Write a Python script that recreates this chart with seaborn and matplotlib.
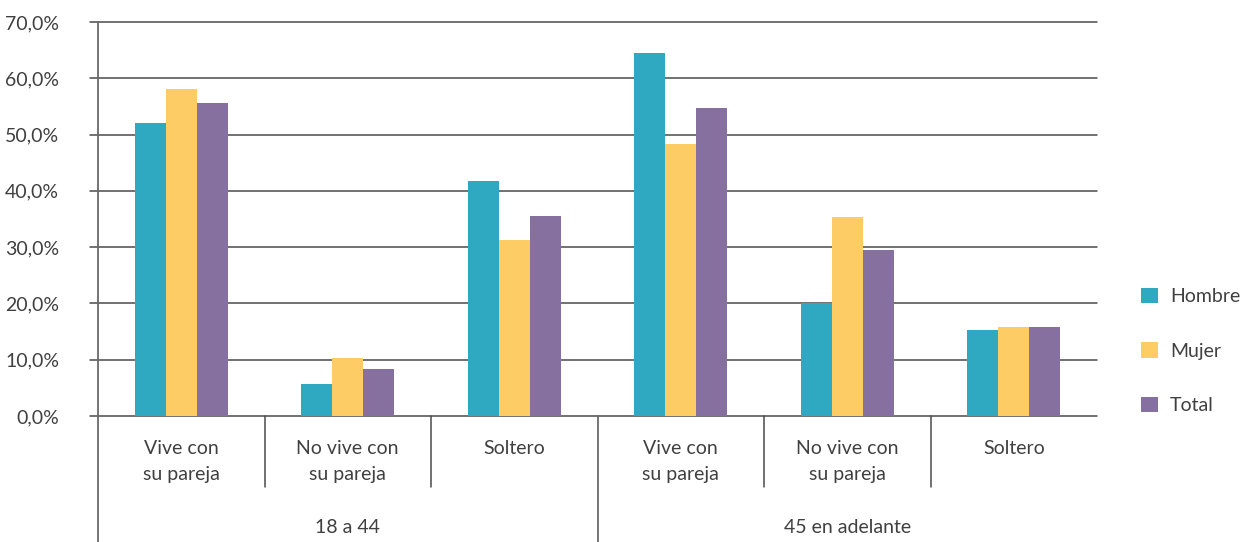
import pandas as pd
import numpy as np
import matplotlib.pyplot as plt
import seaborn as sns
from matplotlib.ticker import FuncFormatter

# data
grupos = ["18 a 44", "45 en adelante"]
situaciones = ["Vive con\nsu pareja", "No vive con\nsu pareja", "Soltero"]
series = ["Hombre", "Mujer", "Total"]
hombre = [52.0, 5.7, 41.7, 64.5, 20.1, 15.3]
mujer = [58.1, 10.3, 31.3, 48.3, 35.3, 15.8]
total = [55.6, 8.3, 35.5, 54.7, 29.5, 15.8]
colores = ["#2FA8C1", "#FDCC64", "#85709F"]

slots = [g + "|" + s for g in grupos for s in situaciones]
rows = []
for name, vals in zip(series, [hombre, mujer, total]):
    for slot, v in zip(slots, vals):
        rows.append({"slot": slot, "serie": name, "valor": v})
df = pd.DataFrame(rows)

sns.set_style("white")
plt.rcParams["font.family"] = ["Lato", "DejaVu Sans"]
txt = "#404040"
fs = 14

fig = plt.figure(figsize=(12.47, 5.42), dpi=100)
ax = fig.add_axes([98 / 1247, 1 - 416 / 542, (1097 - 98) / 1247, (416 - 22) / 542])

sns.barplot(data=df, x="slot", y="valor", hue="serie", order=slots,
            hue_order=series, palette=colores, width=0.56, saturation=1,
            edgecolor="none", linewidth=0, ax=ax, legend=True)

ax.set_ylim(0, 70)
ax.set_xlim(-0.5, 5.5)
ax.set_yticks(np.arange(0, 71, 10))
ax.yaxis.set_major_formatter(FuncFormatter(lambda v, p: f"{v:.1f}%".replace(".", ",")))
ax.tick_params(axis="y", length=0, pad=28, labelsize=fs, labelcolor=txt)
ax.set_xticks(range(6))
ax.set_xticklabels([s.split("|")[1] for s in slots], fontsize=fs, color=txt,
                   linespacing=1.65)
ax.tick_params(axis="x", length=0, pad=17)
ax.set_xlabel("")
ax.set_ylabel("")

# gridlines extending past the axis
for y in np.arange(0, 71, 10):
    ax.plot([-0.008, 1], [y / 70, y / 70], transform=ax.transAxes, color="#4a4a4a",
            lw=1.1, clip_on=False, zorder=0)
for s in ax.spines.values():
    s.set_visible(False)

# axis line and separators
ax.plot([0, 0], [-0.32, 1], transform=ax.transAxes, color="#6a6a6a", lw=1.3, clip_on=False)
for i in [1, 2, 4, 5]:
    ax.plot([i / 6, i / 6], [0, -0.18], transform=ax.transAxes, color="#4a4a4a",
            lw=1.1, clip_on=False)
ax.plot([0.5, 0.5], [0, -0.32], transform=ax.transAxes, color="#6a6a6a", lw=1.3, clip_on=False)
for k, g in enumerate(grupos):
    ax.text(0.25 + 0.5 * k, -0.282, g, transform=ax.transAxes, ha="center",
            va="center", fontsize=fs, color=txt)

# legend
handles, labels = ax.get_legend_handles_labels()
ax.legend_.remove()
fig.legend(handles, labels, loc="center left", bbox_to_anchor=(1141 / 1247, 1 - 351 / 542),
           frameon=False, fontsize=fs, labelcolor=txt, handlelength=0.85,
           handleheight=0.85, labelspacing=1.9, handletextpad=0.65,
           borderaxespad=0, borderpad=0)

fig.savefig("out.png", dpi=100)
